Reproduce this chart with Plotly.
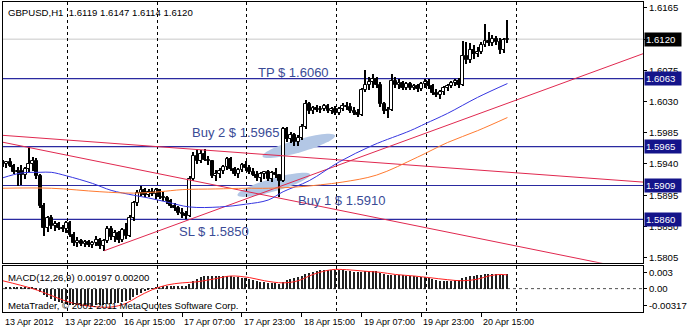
import math
import plotly.graph_objects as go

# ---------------- data ----------------
opens = [1.5942,1.5940,1.5943,1.5937,1.5928,1.5930,1.5924,1.5933,1.5940,1.5945,
         1.5922,1.5880,1.5848,1.5862,1.5850,1.5853,1.5848,1.5846,1.5855,1.5838,
         1.5826,1.5829,1.5825,1.5827,1.5823,1.5826,1.5831,1.5822,1.5829,1.5846,
         1.5834,1.5840,1.5830,1.5845,1.5836,1.5862,1.5884,1.5898,1.5902,1.5896,
         1.5900,1.5897,1.5902,1.5893,1.5891,1.5886,1.5879,1.5877,1.5870,1.5868,
         1.5865,1.5919,1.5952,1.5945,1.5954,1.5946,1.5944,1.5923,1.5926,1.5930,
         1.5935,1.5947,1.5933,1.5926,1.5932,1.5939,1.5934,1.5929,1.5924,1.5920,
         1.5925,1.5928,1.5918,1.5927,1.5924,1.5916,1.5990,1.5976,1.5982,1.5972,
         1.5978,1.5994,1.6026,1.6016,1.6021,1.6018,1.6020,1.6023,1.6017,1.6019,
         1.6014,1.6020,1.6024,1.6022,1.6017,1.6014,1.6011,1.6046,1.6054,1.6058,
         1.6062,1.6054,1.6026,1.6016,1.6018,1.6060,1.6054,1.6057,1.6050,1.6055,
         1.6049,1.6053,1.6048,1.6055,1.6058,1.6052,1.6043,1.6040,1.6044,1.6049,
         1.6053,1.6057,1.6059,1.6054,1.6096,1.6090,1.6104,1.6098,1.6102,1.6112,
         1.6118,1.6114,1.6120,1.6116,1.6104,1.6119]
highs = [1.5946,1.5945,1.5948,1.5940,1.5935,1.5938,1.5936,1.5964,1.5950,1.5948,
         1.5926,1.5884,1.5865,1.5866,1.5858,1.5856,1.5852,1.5858,1.5858,1.5842,
         1.5834,1.5832,1.5830,1.5830,1.5829,1.5836,1.5833,1.5832,1.5850,1.5851,
         1.5845,1.5843,1.5848,1.5855,1.5866,1.5886,1.5902,1.5908,1.5906,1.5904,
         1.5905,1.5906,1.5904,1.5899,1.5894,1.5890,1.5884,1.5880,1.5876,1.5872,
         1.5922,1.5958,1.5962,1.5960,1.5962,1.5952,1.5946,1.5932,1.5934,1.5938,
         1.5950,1.5950,1.5936,1.5934,1.5942,1.5944,1.5938,1.5934,1.5930,1.5928,
         1.5930,1.5932,1.5930,1.5934,1.5926,1.5994,1.5994,1.5986,1.5985,1.5982,
         1.5998,1.6032,1.6030,1.6024,1.6025,1.6024,1.6026,1.6026,1.6022,1.6024,
         1.6022,1.6028,1.6030,1.6028,1.6022,1.6020,1.6050,1.6075,1.6066,1.6070,
         1.6066,1.6058,1.6030,1.6022,1.6070,1.6066,1.6062,1.6060,1.6058,1.6058,
         1.6056,1.6056,1.6058,1.6062,1.6062,1.6056,1.6048,1.6046,1.6052,1.6056,
         1.6060,1.6062,1.6064,1.6118,1.6116,1.6114,1.6112,1.6108,1.6116,1.6142,
         1.6130,1.6126,1.6124,1.6122,1.6122,1.6147]
lows = [1.5936,1.5934,1.5935,1.5925,1.5908,1.5910,1.5918,1.5928,1.5930,1.5918,
        1.5876,1.5836,1.5842,1.5846,1.5844,1.5845,1.5842,1.5840,1.5835,1.5822,
        1.5820,1.5822,1.5821,1.5820,1.5819,1.5822,1.5818,1.5815,1.5826,1.5830,
        1.5828,1.5826,1.5827,1.5832,1.5834,1.5858,1.5880,1.5894,1.5893,1.5892,
        1.5894,1.5890,1.5890,1.5887,1.5882,1.5876,1.5872,1.5866,1.5862,1.5860,
        1.5864,1.5916,1.5940,1.5942,1.5944,1.5938,1.5920,1.5915,1.5920,1.5926,
        1.5932,1.5930,1.5922,1.5920,1.5928,1.5930,1.5925,1.5922,1.5916,1.5914,
        1.5918,1.5915,1.5914,1.5920,1.5893,1.5914,1.5972,1.5970,1.5966,1.5966,
        1.5975,1.5990,1.6012,1.6012,1.6015,1.6014,1.6016,1.6014,1.6012,1.6010,
        1.6010,1.6016,1.6018,1.6014,1.6010,1.6008,1.6009,1.6044,1.6046,1.6050,
        1.6050,1.6022,1.6012,1.6006,1.6016,1.6050,1.6048,1.6046,1.6046,1.6046,
        1.6046,1.6044,1.6045,1.6050,1.6048,1.6040,1.6036,1.6034,1.6040,1.6045,
        1.6049,1.6052,1.6050,1.6052,1.6084,1.6086,1.6092,1.6094,1.6098,1.6108,
        1.6110,1.6110,1.6112,1.6098,1.6100,1.6114]
closes = [1.5940,1.5943,1.5937,1.5928,1.5930,1.5924,1.5933,1.5940,1.5945,1.5922,
          1.5880,1.5848,1.5862,1.5850,1.5853,1.5848,1.5846,1.5855,1.5838,1.5826,
          1.5829,1.5825,1.5827,1.5823,1.5826,1.5831,1.5822,1.5829,1.5846,1.5834,
          1.5840,1.5830,1.5845,1.5836,1.5862,1.5884,1.5898,1.5902,1.5896,1.5900,
          1.5897,1.5902,1.5893,1.5891,1.5886,1.5879,1.5877,1.5870,1.5868,1.5865,
          1.5919,1.5952,1.5945,1.5954,1.5946,1.5944,1.5923,1.5926,1.5930,1.5935,
          1.5947,1.5933,1.5926,1.5932,1.5939,1.5934,1.5929,1.5924,1.5920,1.5925,
          1.5928,1.5918,1.5927,1.5924,1.5916,1.5990,1.5976,1.5982,1.5972,1.5978,
          1.5994,1.6026,1.6016,1.6021,1.6018,1.6020,1.6023,1.6017,1.6019,1.6014,
          1.6020,1.6024,1.6022,1.6017,1.6014,1.6011,1.6046,1.6054,1.6058,1.6062,
          1.6054,1.6026,1.6016,1.6018,1.6060,1.6054,1.6057,1.6050,1.6055,1.6049,
          1.6053,1.6048,1.6055,1.6058,1.6052,1.6043,1.6040,1.6044,1.6049,1.6053,
          1.6057,1.6059,1.6054,1.6096,1.6090,1.6104,1.6098,1.6102,1.6112,1.6118,
          1.6114,1.6120,1.6116,1.6104,1.6119,1.6120]
bars = list(range(len(opens)))

time_tick_bars = [0, 16, 32, 48, 64, 80, 96, 112, 128]
time_tick_text = ["13 Apr 2012", "13 Apr 22:00", "16 Apr 15:00", "17 Apr 07:00",
                  "17 Apr 23:00", "18 Apr 15:00", "19 Apr 07:00", "19 Apr 23:00",
                  "20 Apr 15:00"]
grid_bars = [17.3, 41.3, 65.3, 89.3, 113.3, 137.3]

price_ticks = [1.6165, 1.6120, 1.6075, 1.6030, 1.5985, 1.5940, 1.5895, 1.5850, 1.5805]

ma_fast_bars = [0, 5, 10, 13, 17, 24, 29, 35, 39, 44, 50, 58, 65, 71, 75, 82, 90, 99, 109, 113, 119, 127, 135]
ma_fast_vals = [1.5920, 1.5927, 1.5928, 1.5928, 1.5923, 1.5912, 1.5902, 1.5895, 1.5891, 1.5885,
                1.5878, 1.5878, 1.5882, 1.5888, 1.5900, 1.5916, 1.5943, 1.5967, 1.5988, 1.5998,
                1.6013, 1.6036, 1.6056]
ma_slow_bars = [0, 13, 26, 35, 42, 48, 57, 65, 71, 79, 85, 91, 100, 111, 119, 127, 135]
ma_slow_vals = [1.5905, 1.5905, 1.5900, 1.5898, 1.5900, 1.5903, 1.5904, 1.5905, 1.5905, 1.5907,
                1.5910, 1.5914, 1.5924, 1.5950, 1.5971, 1.5988, 1.6007]

macd_hist = [0.0004, 0.0004, 0.0003, 0.0003, 0.0002, 0.0002, 0.0002, 0.0003, 0.0002,
             -0.0001, -0.0006, -0.0011, -0.0016, -0.0019, -0.0022, -0.0025, -0.0027, -0.0029,
             -0.0030, -0.0031, -0.0031, -0.0032, -0.0032, -0.0032, -0.0032, -0.0031, -0.0031,
             -0.0030, -0.0029, -0.0028, -0.0027, -0.0026,
             -0.0025, -0.0023, -0.0020, -0.0016, -0.0012, -0.0008, -0.0004,
             -0.0002, 0.0001, 0.0003, 0.0004, 0.0005, 0.0006, 0.0006, 0.0006, 0.0006, 0.0006,
             0.0006, 0.0010, 0.0015,
             0.0019, 0.0022, 0.0024, 0.0025, 0.0025, 0.0024, 0.0024, 0.0024, 0.0025, 0.0025,
             0.0023, 0.0022, 0.0021, 0.0020, 0.0019,
             0.0017, 0.0015, 0.0014, 0.0013, 0.0012, 0.0012, 0.0011, 0.0010, 0.0014, 0.0017, 0.0019,
             0.0021, 0.0022, 0.0024, 0.0028, 0.0031, 0.0033, 0.0035, 0.0036, 0.0037, 0.0037,
             0.0037, 0.0037,
             0.0036, 0.0036, 0.0035, 0.0034, 0.0033, 0.0032, 0.0033, 0.0035, 0.0035, 0.0035, 0.0034,
             0.0031, 0.0028, 0.0026, 0.0027, 0.0027, 0.0026, 0.0026, 0.0025, 0.0024, 0.0024,
             0.0023, 0.0023, 0.0022,
             0.0021, 0.0019, 0.0017, 0.0016, 0.0016, 0.0016, 0.0016, 0.0017, 0.0017, 0.0020,
             0.0022, 0.0024, 0.0025, 0.0026, 0.0027, 0.0028, 0.0028, 0.0028, 0.0029, 0.0027,
             0.0027, 0.0028]
macd_sig_bars = [0, 8, 13, 17, 21, 26, 29, 33, 36, 40, 44, 48, 52, 57, 61, 66, 70, 75, 79,
                 83, 88, 92, 97, 101, 105, 110, 114, 119, 123, 127, 130, 133, 135]
macd_sig_vals = [0.0015, 0.0000, -0.0013, -0.0024, -0.0031, -0.0035, -0.0035, -0.0028, -0.0016,
                 -0.0002, 0.0007, 0.0011, 0.0013, 0.0019, 0.0024, 0.0021, 0.0015, 0.0011, 0.0015,
                 0.0027, 0.0036, 0.0036, 0.0033, 0.0031, 0.0027, 0.0024, 0.0021, 0.0017, 0.0015,
                 0.0018, 0.0024, 0.0027, 0.0026]
macd_tick_vals = [0.003, 0.0, -0.00317]
macd_tick_text = ["0.003", "0.00", "-0.00317"]

level_prices = [1.6063, 1.5965, 1.5909, 1.5860]
last_price = 1.6120

trend_lines = [((0.08, 1.59813), (171.26, 1.59139)),
               ((0.08, 1.59713), (171.26, 1.57848)),
               ((27.15, 1.58149), (171.26, 1.60990))]

label_texts = ["TP $ 1.6060", "Buy 2 $ 1.5965", "Buy 1 $ 1.5910", "SL $ 1.5850"]
label_bars = [67.8, 50.2, 78.4, 46.5]
label_prices = [1.6072, 1.5986, 1.5888, 1.5842]

ellipse_bars = [79.2, 72.5]
ellipse_prices = [1.5966, 1.5910]

header_text = "GBPUSD,H1  1.6119 1.6147 1.6114 1.6120"
macd_text = "MACD(12,26,9) 0.00197 0.00200"
copyright_text = "MetaTrader, © 2001-2011 MetaQuotes Software Corp."

# ---------------- layout geometry ----------------
W, H = 688, 332
ML, MR, MT, MB = 3, 40, 1, 20
X_RANGE = [0.08, 171.26]
Y_RANGE = [1.57977, 1.61736]
Y2_RANGE = [-0.00444, 0.00437]
plot_h = H - MT - MB
main_dom = [(plot_h - 261.5) / plot_h, 1.0]
macd_dom = [0.0, 46.5 / plot_h]

FONT = "Liberation Sans, Arial, sans-serif"
SMALL = 9.6
px_per_bar = (W - ML - MR) / (X_RANGE[1] - X_RANGE[0])
px_per_price = 262 / (Y_RANGE[1] - Y_RANGE[0])

fig = go.Figure()

# ellipses (background highlights)
shapes = []
for bx, py in zip(ellipse_bars, ellipse_prices):
    a, b, ang = 38.0, 6.5, math.radians(-16)
    pts = []
    for k in range(61):
        t = 2 * math.pi * k / 60
        dx = a * math.cos(t) * math.cos(ang) - b * math.sin(t) * math.sin(ang)
        dy = a * math.cos(t) * math.sin(ang) + b * math.sin(t) * math.cos(ang)
        pts.append((bx + dx / px_per_bar, py - dy / px_per_price))
    path = "M " + " L ".join(f"{x:.4f},{y:.6f}" for x, y in pts) + " Z"
    shapes.append(dict(type="path", path=path, xref="x", yref="y", layer="below",
                       fillcolor="#b3c7e5", line=dict(width=0)))

# horizontal level lines
shapes.append(dict(type="line", xref="x domain", yref="y", x0=0, x1=1, y0=last_price, y1=last_price,
                   line=dict(color="#c8c8c8", width=1), layer="below"))
for lv in level_prices:
    shapes.append(dict(type="line", xref="x domain", yref="y", x0=0, x1=1, y0=lv, y1=lv,
                       line=dict(color="#2a2aa0", width=1.2), layer="below"))
# MACD zero level
shapes.append(dict(type="line", xref="x2 domain", yref="y2", x0=0, x1=1, y0=0, y1=0,
                   line=dict(color="#505050", width=1, dash="dot"), layer="below"))

# trend lines
for (x0, y0), (x1, y1) in trend_lines:
    fig.add_trace(go.Scatter(x=[x0, x1], y=[y0, y1], mode="lines",
                             line=dict(color="#e0284f", width=1), hoverinfo="skip"))

# moving averages
fig.add_trace(go.Scatter(x=ma_fast_bars, y=ma_fast_vals, mode="lines", line_shape="spline",
                         line=dict(color="#3535e0", width=1), hoverinfo="skip"))
fig.add_trace(go.Scatter(x=ma_slow_bars, y=ma_slow_vals, mode="lines", line_shape="spline",
                         line=dict(color="#ff7a30", width=1), hoverinfo="skip"))

# candles: wicks and bodies
fig.add_trace(go.Bar(x=bars, base=lows, y=[h - l for h, l in zip(highs, lows)], width=0.27,
                     marker=dict(color="black", line=dict(width=0)), hoverinfo="skip"))
body_base = [min(o, c) for o, c in zip(opens, closes)]
body_h = [max(abs(c - o), 0.00006) for o, c in zip(opens, closes)]
body_col = ["white" if c >= o else "black" for o, c in zip(opens, closes)]
fig.add_trace(go.Bar(x=bars, base=body_base, y=body_h, width=0.78,
                     marker=dict(color=body_col, line=dict(color="black", width=1)), hoverinfo="skip"))

# MACD
fig.add_trace(go.Bar(x=bars, y=macd_hist, width=0.4, xaxis="x2", yaxis="y2",
                     marker=dict(color="#202020", line=dict(width=0)), hoverinfo="skip"))
fig.add_trace(go.Scatter(x=macd_sig_bars, y=macd_sig_vals, mode="lines", line_shape="spline",
                         xaxis="x2", yaxis="y2", line=dict(color="#ff2020", width=1), hoverinfo="skip"))

annotations = []
# chart labels
for t, bx, py in zip(label_texts, label_bars, label_prices):
    annotations.append(dict(text=t, x=bx, y=py, xref="x", yref="y", xanchor="left", yanchor="middle",
                            showarrow=False, font=dict(family=FONT, size=13, color="#3a4b96")))
# price boxes on the right
boxes = [(last_price, "black")] + [(lv, "#14148a") for lv in level_prices]
for pv, bg in boxes:
    annotations.append(dict(text=f"{pv:.4f}", x=1, y=pv, xref="paper", yref="y", xanchor="left",
                            yanchor="middle", xshift=1, showarrow=False, bgcolor=bg, borderpad=1,
                            width=34, align="left", font=dict(family=FONT, size=SMALL, color="white")))
# time labels (left-aligned at their tick, as the terminal draws them)
for b, t in zip(time_tick_bars, time_tick_text):
    xp = max(0.0, (b - X_RANGE[0]) / (X_RANGE[1] - X_RANGE[0]))
    annotations.append(dict(text=t, x=xp, y=0, xref="paper", yref="paper", xanchor="left", yanchor="top",
                            yshift=-3, xshift=0, showarrow=False,
                            font=dict(family=FONT, size=9, color="black")))
# texts
annotations.append(dict(text=header_text, x=0, y=1, xref="paper", yref="paper", xanchor="left",
                        yanchor="top", xshift=3, yshift=-3, showarrow=False,
                        font=dict(family=FONT, size=SMALL, color="black")))
annotations.append(dict(text=macd_text, x=0, y=macd_dom[1], xref="paper", yref="paper", xanchor="left",
                        yanchor="top", xshift=3, yshift=-4, showarrow=False,
                        font=dict(family=FONT, size=SMALL, color="black")))
annotations.append(dict(text=copyright_text, x=0, y=0, xref="paper", yref="paper", xanchor="left",
                        yanchor="bottom", xshift=3, yshift=-1, showarrow=False,
                        font=dict(family=FONT, size=SMALL, color="black")))

# the 1.6120 tick label is covered by the last-price box, so it is left blank
price_tick_text = ["" if abs(v - last_price) < 1e-9 else f"{v:.4f}" for v in price_ticks]

grid_common = dict(showgrid=True, gridcolor="black", gridwidth=1, griddash="3px,3px")
fig.update_layout(
    width=W, height=H, margin=dict(l=ML, r=MR, t=MT, b=MB),
    paper_bgcolor="white", plot_bgcolor="white", showlegend=False,
    barmode="overlay", bargap=0,
    font=dict(family=FONT, size=SMALL, color="black"),
    xaxis=dict(domain=[0, 1], range=X_RANGE, anchor="y", tickmode="array", tickvals=grid_bars,
               showticklabels=False, ticks="", showline=True, mirror=True, linecolor="black",
               linewidth=1, zeroline=False, **grid_common),
    xaxis2=dict(domain=[0, 1], range=X_RANGE, anchor="y2", matches="x", tickmode="array",
                tickvals=grid_bars, showticklabels=False, ticks="", showline=True, mirror=True,
                linecolor="black", linewidth=1, zeroline=False,
                minor=dict(tickmode="array", tickvals=time_tick_bars, ticks="outside", ticklen=4,
                           tickcolor="black", showgrid=False),
                **grid_common),
    yaxis=dict(domain=main_dom, range=Y_RANGE, side="right", tickmode="array", tickvals=price_ticks,
               ticktext=price_tick_text, ticks="outside", ticklen=3,
               tickcolor="black", showgrid=False, zeroline=False, showline=True, mirror=True,
               linecolor="black", linewidth=1, tickfont=dict(family=FONT, size=SMALL, color="black")),
    yaxis2=dict(domain=macd_dom, range=Y2_RANGE, side="right", tickmode="array",
                tickvals=macd_tick_vals, ticktext=macd_tick_text, ticks="outside", ticklen=3,
                tickcolor="black", showgrid=False, zeroline=False, showline=True, mirror=True,
                linecolor="black", linewidth=1, tickfont=dict(family=FONT, size=SMALL, color="black")),
    shapes=shapes, annotations=annotations,
)

fig.write_html("out.html")
